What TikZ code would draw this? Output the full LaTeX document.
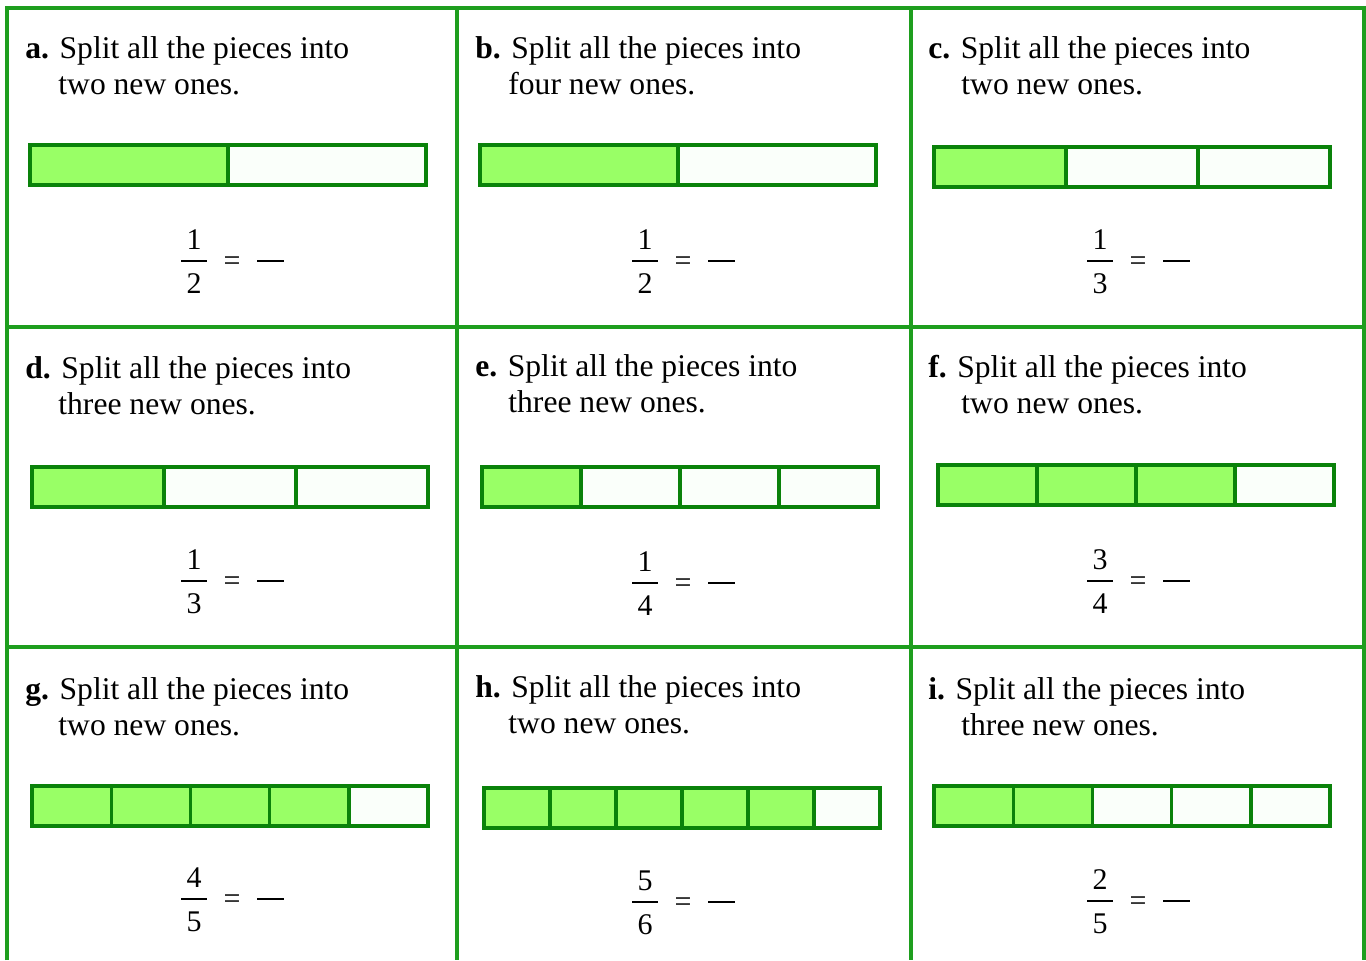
\documentclass[tikz,border=0pt]{standalone}
\usepackage{fontspec}
\setmainfont{Liberation Serif}
\usetikzlibrary{positioning}
\definecolor{Leaf}{HTML}{99FF66}
\definecolor{LeafDark}{HTML}{0A820A}
\definecolor{GridGreen}{HTML}{1E9E1E}
\definecolor{Paper}{HTML}{FAFFFA}

\begin{document}
\begin{tikzpicture}[x=0.5pt,y=-0.5pt]
    \tikzset{task/.style={anchor=base west,inner sep=0pt,font=\fontsize{15.8pt}{18pt}\selectfont},
      digit/.style={inner sep=0pt,font=\fontsize{15pt}{18pt}\selectfont},
      piece/.style={draw=LeafDark,line width=1.7pt},
      cellline/.style={draw=GridGreen,line width=1.6pt}}
    \useasboundingbox (0,0) rectangle (1366,960);
    \fill[white] (0,0) rectangle (1366,960);

    % grid of cells
    \draw[cellline] (7,960) -- (7,8) -- (1364,8) -- (1364,960);
    \foreach \y in {327,647}{\draw[cellline] (7,\y) -- (1364,\y);}
    \foreach \x in {457,911}{\draw[cellline] (\x,8) -- (\x,960);}

    % one task per cell
    \foreach \id/\lx/\ty/\word/\bx/\by/\n/\k/\fx/\fy/\num/\den in {
        a/25/58/two/30/145/2/1/194/261/1/2,
        b/475/58/four/480/145/2/1/645/261/1/2,
        c/928/58/two/934/147/3/1/1100/261/1/3,
        d/25/378/three/32/467/3/1/194/581/1/3,
        e/475/376/three/482/467/4/1/645/583/1/4,
        f/928/377/two/938/465/4/3/1100/581/3/4,
        g/25/699/two/32/786/5/4/194/899/4/5,
        h/475/697/two/484/788/6/5/645/902/5/6,
        i/928/699/three/934/786/5/2/1100/901/2/5}{
      \node[task] (q\id) at (\lx,\ty) {\textbf{\id.} Split all the pieces into};
      \node[task] (w\id) at (\lx+33,\ty+36) {\word\ new ones.};
      % bar
      \pgfmathsetmacro\w{396/\n}
      \fill[Paper] (\bx,\by) rectangle ++(396,40);
      \fill[Leaf] (\bx,\by) rectangle ++({\k*\w},40);
      \foreach \i in {1,...,\n}{
        \draw[piece] ({\bx+(\i-1)*\w},\by) rectangle ++(\w,40);
      }
      % fraction
      \node[digit] (num\id) at (\fx,\fy-21) {\num};
      \node[digit] (den\id) at (\fx,\fy+23) {\den};
      \draw[line width=1.1pt] (\fx-13,\fy) -- (\fx+13,\fy);
      \node[digit] (eq\id) at (\fx+38,\fy+3) {=};
      \draw[line width=1.1pt] (\fx+63,\fy) -- (\fx+90,\fy);
    }
  \end{tikzpicture}
\end{document}
